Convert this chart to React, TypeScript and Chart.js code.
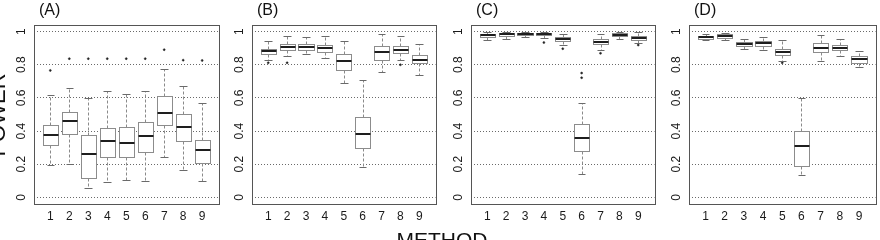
import { useEffect, useRef } from 'react';
import { Chart, registerables } from 'chart.js';

Chart.register(...registerables);

// Methods on the horizontal axis and power ticks on the vertical axis
const methods = [1, 2, 3, 4, 5, 6, 7, 8, 9];
const powerTicks = [0, 0.2, 0.4, 0.6, 0.8, 1];

// Panel (A): five-number summaries per method, plus outliers as [method, value]
const lowA = [0.193, 0.202, 0.054, 0.093, 0.103, 0.101, 0.244, 0.166, 0.097];
const q1A = [0.314, 0.383, 0.117, 0.242, 0.246, 0.274, 0.434, 0.343, 0.206];
const medA = [0.379, 0.462, 0.26, 0.341, 0.327, 0.369, 0.508, 0.426, 0.284];
const q3A = [0.434, 0.514, 0.377, 0.42, 0.423, 0.456, 0.611, 0.506, 0.349];
const highA = [0.615, 0.657, 0.599, 0.639, 0.623, 0.643, 0.772, 0.671, 0.571];
const outA: [number, number][] = [[1, 0.766], [2, 0.837], [3, 0.837], [4, 0.837], [5, 0.837], [6, 0.837], [7, 0.891], [8, 0.828], [9, 0.826]];

// Panel (B)
const lowB = [0.831, 0.851, 0.865, 0.839, 0.693, 0.186, 0.754, 0.828, 0.736];
const q1B = [0.867, 0.887, 0.889, 0.879, 0.766, 0.299, 0.828, 0.873, 0.81];
const medB = [0.882, 0.907, 0.907, 0.899, 0.82, 0.383, 0.879, 0.891, 0.828];
const q3B = [0.897, 0.926, 0.925, 0.921, 0.867, 0.484, 0.913, 0.913, 0.859];
const highB = [0.942, 0.973, 0.966, 0.973, 0.943, 0.71, 0.988, 0.976, 0.925];
const outB: [number, number][] = [[1, 0.812], [2, 0.812], [8, 0.8]];

// Panel (C)
const lowC = [0.947, 0.953, 0.966, 0.96, 0.92, 0.143, 0.889, 0.953, 0.931];
const q1C = [0.966, 0.973, 0.98, 0.98, 0.943, 0.278, 0.925, 0.973, 0.949];
const medC = [0.977, 0.984, 0.988, 0.988, 0.955, 0.361, 0.939, 0.982, 0.963];
const q3C = [0.985, 0.992, 0.994, 0.994, 0.966, 0.441, 0.953, 0.99, 0.973];
const highC = [1.0, 0.998, 1.0, 1.0, 0.988, 0.571, 0.986, 0.998, 0.996];
const outC: [number, number][] = [[4, 0.934], [5, 0.897], [6, 0.75], [6, 0.722], [7, 0.869], [9, 0.919]];

// Panel (D)
const lowD = [0.949, 0.951, 0.893, 0.887, 0.825, 0.137, 0.825, 0.855, 0.784];
const q1D = [0.957, 0.963, 0.915, 0.915, 0.857, 0.192, 0.875, 0.891, 0.813];
const medD = [0.967, 0.976, 0.927, 0.931, 0.877, 0.307, 0.903, 0.903, 0.833];
const q3D = [0.976, 0.986, 0.937, 0.941, 0.897, 0.403, 0.933, 0.917, 0.853];
const highD = [0.988, 0.99, 0.957, 0.97, 0.951, 0.599, 0.98, 0.953, 0.885];
const outD: [number, number][] = [[5, 0.812]];

const FONT = '"Liberation Sans", Arial, Helvetica, sans-serif';
const Y_AXIS_W = 34;
const X_AXIS_H = 36;
const TOP_PAD = 25;
const RIGHT_PAD = 2;

interface PanelProps {
  tag: string;
  left: number;
  width: number;
  low: number[];
  q1: number[];
  med: number[];
  q3: number[];
  high: number[];
  out: [number, number][];
}

function Panel(p: PanelProps) {
  const ref = useRef<HTMLCanvasElement>(null);
  const cw = Y_AXIS_W + p.width + RIGHT_PAD;

  useEffect(() => {
    const canvas = ref.current;
    if (!canvas) return;

    const crisp = (v: number) => Math.round(v) + 0.5;
    const seg = (ctx: CanvasRenderingContext2D, x1: number, y1: number, x2: number, y2: number) => {
      ctx.beginPath();
      ctx.moveTo(x1, y1);
      ctx.lineTo(x2, y2);
      ctx.stroke();
    };

    const boxPlot = {
      id: 'boxPlot',
      afterDatasetsDraw(chart: any) {
        const { ctx, scales } = chart;
        const xs = scales.x;
        const ys = scales.y;
        ctx.save();
        methods.forEach((m, i) => {
          const cx = crisp(xs.getPixelForValue(m));
          const bl = crisp(xs.getPixelForValue(m - 0.4));
          const br = crisp(xs.getPixelForValue(m + 0.4));
          const sl = crisp(xs.getPixelForValue(m - 0.2));
          const sr = crisp(xs.getPixelForValue(m + 0.2));
          const yLow = crisp(ys.getPixelForValue(p.low[i]));
          const yQ1 = crisp(ys.getPixelForValue(p.q1[i]));
          const yMed = ys.getPixelForValue(p.med[i]);
          const yQ3 = crisp(ys.getPixelForValue(p.q3[i]));
          const yHigh = crisp(ys.getPixelForValue(p.high[i]));

          // dashed whiskers
          ctx.lineWidth = 1;
          ctx.strokeStyle = '#8a8a8a';
          ctx.setLineDash([3, 2]);
          seg(ctx, cx, yQ1, cx, yLow);
          seg(ctx, cx, yQ3, cx, yHigh);
          ctx.setLineDash([]);

          // whisker caps
          ctx.strokeStyle = '#6a6a6a';
          seg(ctx, sl, yLow, sr, yLow);
          seg(ctx, sl, yHigh, sr, yHigh);

          // box
          ctx.fillStyle = '#ffffff';
          ctx.fillRect(bl, yQ3, br - bl, yQ1 - yQ3);
          ctx.strokeStyle = '#8c8c8c';
          ctx.strokeRect(bl, yQ3, br - bl, yQ1 - yQ3);

          // median
          ctx.strokeStyle = '#1e1e1e';
          ctx.lineWidth = 2;
          seg(ctx, bl, Math.round(yMed), br, Math.round(yMed));
        });
        ctx.restore();
      },
      afterDraw(chart: any) {
        const { ctx, chartArea } = chart;
        ctx.save();
        ctx.strokeStyle = '#555555';
        ctx.lineWidth = 1;
        const l = crisp(chartArea.left);
        const t = crisp(chartArea.top);
        const r = crisp(chartArea.right);
        const b = crisp(chartArea.bottom);
        ctx.strokeRect(l, t, r - l, b - t);
        ctx.fillStyle = '#111111';
        ctx.font = `16px ${FONT}`;
        ctx.textBaseline = 'alphabetic';
        ctx.textAlign = 'left';
        ctx.fillText(p.tag, chartArea.left + 5, 15);
        ctx.restore();
      },
    };

    const chart = new Chart(canvas, {
      type: 'scatter',
      data: {
        datasets: [
          {
            data: p.out.map(([m, v]) => ({ x: m, y: v })),
            pointRadius: 1,
            pointBorderWidth: 0.5,
            pointBackgroundColor: '#222222',
            pointBorderColor: '#222222',
          },
        ],
      },
      options: {
        animation: false,
        responsive: false,
        maintainAspectRatio: false,
        devicePixelRatio: 1,
        events: [],
        layout: { padding: { top: TOP_PAD, right: RIGHT_PAD, bottom: 0, left: 0 } },
        plugins: { legend: { display: false }, tooltip: { enabled: false }, title: { display: false } },
        scales: {
          x: {
            type: 'linear',
            min: 0.14,
            max: 9.86,
            afterBuildTicks: (scale: any) => {
              scale.ticks = methods.map((v) => ({ value: v }));
            },
            afterFit: (scale: any) => {
              scale.height = X_AXIS_H;
            },
            grid: { display: false, drawTicks: false },
            border: { display: false },
            ticks: {
              autoSkip: false,
              maxRotation: 0,
              minRotation: 0,
              padding: 5,
              color: '#1a1a1a',
              font: { family: FONT, size: 12 },
              callback: (v: any) => String(v),
            },
          },
          y: {
            type: 'linear',
            min: -0.04,
            max: 1.04,
            z: 1,
            afterBuildTicks: (scale: any) => {
              scale.ticks = powerTicks.map((v) => ({ value: v }));
            },
            afterFit: (scale: any) => {
              scale.width = Y_AXIS_W;
            },
            grid: { display: true, drawTicks: false, color: '#6a6a6a', lineWidth: 1 },
            border: { display: false, dash: [1, 2] },
            ticks: {
              autoSkip: false,
              minRotation: 90,
              maxRotation: 90,
              crossAlign: 'center',
              padding: 4,
              color: '#1a1a1a',
              font: { family: FONT, size: 12 },
              callback: (v: any) => String(v),
            },
          },
        },
      },
      plugins: [boxPlot],
    } as any);

    return () => chart.destroy();
  }, []);

  return (
    <canvas
      ref={ref}
      width={cw}
      height={240}
      style={{ position: 'absolute', left: p.left - Y_AXIS_W, top: 0, width: cw, height: 240 }}
    />
  );
}

export default function App() {
  return (
    <div
      style={{
        position: 'fixed',
        left: 0,
        top: 0,
        width: 880,
        height: 240,
        overflow: 'hidden',
        background: '#ffffff',
      }}
    >
      <Panel tag="(A)" left={34} width={187} low={lowA} q1={q1A} med={medA} q3={q3A} high={highA} out={outA} />
      <Panel tag="(B)" left={252} width={186} low={lowB} q1={q1B} med={medB} q3={q3B} high={highB} out={outB} />
      <Panel tag="(C)" left={471} width={186} low={lowC} q1={q1C} med={medC} q3={q3C} high={highC} out={outC} />
      <Panel tag="(D)" left={689} width={189} low={lowD} q1={q1D} med={medD} q3={q3D} high={highD} out={outD} />
      <div
        style={{
          position: 'absolute',
          left: -102,
          top: 104,
          width: 200,
          height: 22,
          lineHeight: '22px',
          fontSize: 22,
          fontFamily: FONT,
          color: '#111111',
          textAlign: 'center',
          transform: 'rotate(-90deg)',
          transformOrigin: '50% 50%',
          whiteSpace: 'nowrap',
        }}
      >
        POWER
      </div>
      <div
        style={{
          position: 'absolute',
          left: 342,
          top: 229,
          width: 200,
          lineHeight: '21px',
          fontSize: 21,
          fontFamily: FONT,
          color: '#111111',
          textAlign: 'center',
          whiteSpace: 'nowrap',
        }}
      >
        METHOD
      </div>
    </div>
  );
}
